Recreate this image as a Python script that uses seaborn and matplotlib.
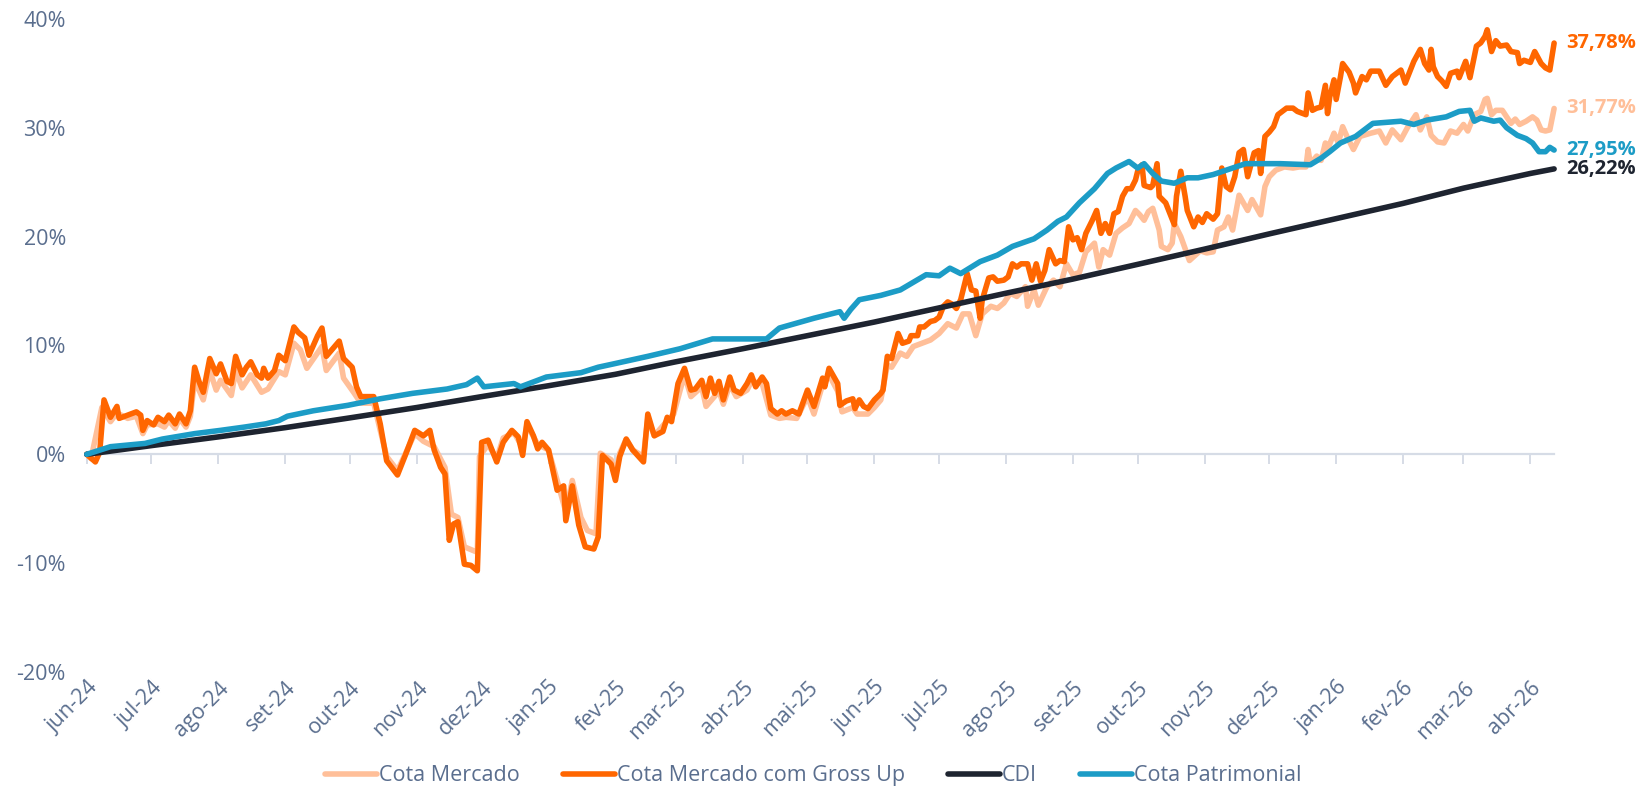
import matplotlib
matplotlib.use("Agg")
import matplotlib.pyplot as plt
import pandas as pd
import seaborn as sns

# ---------------- data (cumulative return, %) ----------------
gross_up_dates = [
    "2024-06-01", "2024-06-05", "2024-06-07", "2024-06-09", "2024-06-12", "2024-06-15", "2024-06-16",
    "2024-06-20", "2024-06-24", "2024-06-26", "2024-06-27", "2024-06-29", "2024-07-02", "2024-07-04",
    "2024-07-07", "2024-07-09", "2024-07-12", "2024-07-14", "2024-07-17", "2024-07-19", "2024-07-21",
    "2024-07-23", "2024-07-25", "2024-07-28", "2024-07-31", "2024-08-02", "2024-08-05", "2024-08-07",
    "2024-08-09", "2024-08-12", "2024-08-14", "2024-08-16", "2024-08-19", "2024-08-21", "2024-08-22",
    "2024-08-24", "2024-08-27", "2024-08-29", "2024-09-01", "2024-09-05", "2024-09-07", "2024-09-10",
    "2024-09-12", "2024-09-16", "2024-09-18", "2024-09-20", "2024-09-23", "2024-09-26", "2024-09-28",
    "2024-10-02", "2024-10-04", "2024-10-06", "2024-10-12", "2024-10-15", "2024-10-18", "2024-10-23",
    "2024-10-27", "2024-10-31", "2024-11-04", "2024-11-07", "2024-11-09", "2024-11-12", "2024-11-14",
    "2024-11-16", "2024-11-18", "2024-11-20", "2024-11-23", "2024-11-26", "2024-11-29", "2024-12-01",
    "2024-12-04", "2024-12-08", "2024-12-11", "2024-12-15", "2024-12-18", "2024-12-20", "2024-12-22",
    "2024-12-25", "2024-12-27", "2024-12-29", "2025-01-01", "2025-01-05", "2025-01-08", "2025-01-09",
    "2025-01-12", "2025-01-15", "2025-01-18", "2025-01-22", "2025-01-24", "2025-01-26", "2025-01-30",
    "2025-02-01", "2025-02-03", "2025-02-06", "2025-02-09", "2025-02-14", "2025-02-16", "2025-02-19",
    "2025-02-23", "2025-02-25", "2025-02-27", "2025-03-02", "2025-03-05", "2025-03-08", "2025-03-10",
    "2025-03-13", "2025-03-15", "2025-03-17", "2025-03-19", "2025-03-21", "2025-03-23", "2025-03-26",
    "2025-03-28", "2025-03-31", "2025-04-03", "2025-04-05", "2025-04-07", "2025-04-10", "2025-04-12",
    "2025-04-14", "2025-04-17", "2025-04-19", "2025-04-21", "2025-04-24", "2025-04-27", "2025-05-01",
    "2025-05-04", "2025-05-08", "2025-05-09", "2025-05-11", "2025-05-15", "2025-05-16", "2025-05-19",
    "2025-05-22", "2025-05-23", "2025-05-25", "2025-05-27", "2025-05-29", "2025-06-01", "2025-06-04",
    "2025-06-05", "2025-06-07", "2025-06-09", "2025-06-12", "2025-06-14", "2025-06-17", "2025-06-18",
    "2025-06-21", "2025-06-22", "2025-06-24", "2025-06-27", "2025-06-29", "2025-07-01", "2025-07-03",
    "2025-07-05", "2025-07-07", "2025-07-09", "2025-07-11", "2025-07-14", "2025-07-16", "2025-07-18",
    "2025-07-20", "2025-07-21", "2025-07-24", "2025-07-26", "2025-07-28", "2025-07-31", "2025-08-02",
    "2025-08-04", "2025-08-06", "2025-08-08", "2025-08-11", "2025-08-13", "2025-08-15", "2025-08-17",
    "2025-08-19", "2025-08-21", "2025-08-24", "2025-08-26", "2025-08-28", "2025-08-30", "2025-09-01",
    "2025-09-03", "2025-09-05", "2025-09-07", "2025-09-10", "2025-09-12", "2025-09-14", "2025-09-16",
    "2025-09-18", "2025-09-20", "2025-09-22", "2025-09-24", "2025-09-26", "2025-09-28", "2025-09-30",
    "2025-10-01", "2025-10-03", "2025-10-04", "2025-10-07", "2025-10-08", "2025-10-10", "2025-10-11",
    "2025-10-14", "2025-10-16", "2025-10-18", "2025-10-19", "2025-10-21", "2025-10-23", "2025-10-24",
    "2025-10-27", "2025-10-29", "2025-10-31", "2025-11-02", "2025-11-05", "2025-11-07", "2025-11-09",
    "2025-11-11", "2025-11-13", "2025-11-15", "2025-11-17", "2025-11-19", "2025-11-21", "2025-11-24",
    "2025-11-26", "2025-11-27", "2025-11-29", "2025-12-01", "2025-12-03", "2025-12-05", "2025-12-09",
    "2025-12-12", "2025-12-14", "2025-12-18", "2025-12-19", "2025-12-21", "2025-12-23", "2025-12-25",
    "2025-12-27", "2025-12-28", "2025-12-29", "2025-12-31", "2026-01-01", "2026-01-03", "2026-01-04",
    "2026-01-07", "2026-01-09", "2026-01-10", "2026-01-13", "2026-01-15", "2026-01-17", "2026-01-21",
    "2026-01-24", "2026-01-27", "2026-01-31", "2026-02-02", "2026-02-06", "2026-02-09", "2026-02-11",
    "2026-02-13", "2026-02-14", "2026-02-15", "2026-02-17", "2026-02-19", "2026-02-21", "2026-02-23",
    "2026-02-26", "2026-02-27", "2026-03-02", "2026-03-04", "2026-03-07", "2026-03-09", "2026-03-11",
    "2026-03-12", "2026-03-14", "2026-03-16", "2026-03-18", "2026-03-21", "2026-03-23", "2026-03-26",
    "2026-03-27", "2026-03-29", "2026-04-01", "2026-04-03", "2026-04-06", "2026-04-08", "2026-04-10",
    "2026-04-12",
]
gross_up_values = [
    0.0, -0.7, 0.2, 5.0, 3.4, 4.4, 3.3,
    3.6, 3.9, 3.6, 2.2, 3.1, 2.7, 3.4,
    3.0, 3.6, 2.8, 3.7, 2.8, 4.0, 8.0,
    6.7, 5.7, 8.8, 7.4, 8.3, 6.7, 6.5,
    9.0, 7.3, 8.0, 8.5, 7.3, 7.0, 7.9,
    7.0, 7.7, 9.1, 8.6, 11.7, 11.2, 10.7,
    9.1, 10.9, 11.6, 9.0, 9.7, 10.4, 8.8,
    8.0, 6.2, 5.3, 5.3, 2.8, -0.6, -1.9,
    0.1, 2.2, 1.7, 2.2, 0.4, -1.2, -1.8,
    -7.9, -6.4, -6.2, -10.1, -10.2, -10.7, 1.1,
    1.3, -0.7, 1.1, 2.2, 1.6, -0.1, 3.0,
    1.7, 0.5, 1.1, 0.4, -3.3, -2.9, -6.1,
    -2.9, -6.5, -8.5, -8.7, -7.6, -0.1, -0.9,
    -2.4, -0.2, 1.4, 0.4, -0.7, 3.7, 1.7,
    2.1, 3.4, 3.0, 6.5, 7.9, 5.9, 6.0,
    6.8, 5.3, 7.0, 5.6, 6.7, 5.0, 7.1,
    5.9, 5.6, 6.5, 7.3, 6.2, 7.1, 6.5,
    4.2, 3.7, 4.0, 3.7, 4.0, 3.7, 5.9,
    4.4, 7.0, 6.2, 7.9, 6.5, 4.5, 4.9,
    5.1, 4.2, 5.0, 4.4, 4.2, 5.0, 5.6,
    5.9, 9.0, 8.8, 11.1, 10.2, 10.4, 10.9,
    10.9, 11.7, 11.7, 12.2, 12.3, 12.6, 13.6,
    14.0, 13.8, 13.4, 14.2, 16.6, 15.1, 15.0,
    12.5, 14.2, 16.2, 16.3, 15.9, 16.0, 16.3,
    17.5, 17.2, 17.5, 17.5, 16.0, 17.5, 15.9,
    16.9, 18.8, 17.5, 17.8, 17.7, 20.9, 19.7,
    19.9, 18.8, 20.3, 21.5, 22.4, 20.3, 21.2,
    20.3, 22.1, 22.3, 23.7, 24.4, 24.4, 25.2,
    26.0, 26.6, 24.7, 24.5, 24.7, 26.7, 23.7,
    23.1, 22.1, 21.1, 23.7, 26.0, 23.7, 22.4,
    20.9, 21.8, 21.3, 22.1, 21.6, 22.1, 26.3,
    24.6, 24.3, 25.5, 27.7, 28.0, 25.5, 27.7,
    27.9, 25.8, 29.2, 29.6, 30.1, 31.2, 31.8,
    31.8, 31.5, 31.2, 33.2, 31.6, 31.8, 31.9,
    33.9, 31.3, 32.8, 34.4, 32.6, 34.7, 35.9,
    35.1, 34.1, 33.2, 34.7, 34.4, 35.2, 35.2,
    33.9, 34.7, 35.3, 34.1, 36.1, 37.2, 35.9,
    35.3, 37.2, 35.6, 34.7, 34.3, 33.8, 35.0,
    35.2, 34.6, 36.1, 34.6, 37.5, 37.8, 38.4,
    39.0, 37.0, 38.0, 37.5, 37.6, 37.0, 36.9,
    35.9, 36.2, 36.0, 37.0, 35.9, 35.5, 35.3,
    37.78,
]

mercado_dates = [
    "2024-06-01", "2024-06-03", "2024-06-08", "2024-06-12", "2024-06-15", "2024-06-20", "2024-06-24",
    "2024-06-27", "2024-06-29", "2024-07-04", "2024-07-07", "2024-07-09", "2024-07-12", "2024-07-14",
    "2024-07-17", "2024-07-19", "2024-07-21", "2024-07-25", "2024-07-28", "2024-07-31", "2024-08-02",
    "2024-08-07", "2024-08-09", "2024-08-12", "2024-08-16", "2024-08-21", "2024-08-24", "2024-08-29",
    "2024-09-01", "2024-09-05", "2024-09-08", "2024-09-11", "2024-09-18", "2024-09-20", "2024-09-26",
    "2024-09-28", "2024-10-03", "2024-10-06", "2024-10-12", "2024-10-15", "2024-10-18", "2024-10-23",
    "2024-10-31", "2024-11-04", "2024-11-09", "2024-11-14", "2024-11-17", "2024-11-20", "2024-11-23",
    "2024-11-29", "2024-11-30", "2024-12-04", "2024-12-08", "2024-12-11", "2024-12-16", "2024-12-20",
    "2024-12-22", "2024-12-27", "2025-01-01", "2025-01-05", "2025-01-09", "2025-01-12", "2025-01-16",
    "2025-01-19", "2025-01-23", "2025-01-25", "2025-01-30", "2025-02-01", "2025-02-03", "2025-02-06",
    "2025-02-09", "2025-02-14", "2025-02-16", "2025-02-19", "2025-02-25", "2025-02-28", "2025-03-03",
    "2025-03-05", "2025-03-08", "2025-03-13", "2025-03-15", "2025-03-21", "2025-03-23", "2025-03-26",
    "2025-03-29", "2025-04-03", "2025-04-05", "2025-04-10", "2025-04-14", "2025-04-18", "2025-04-21",
    "2025-04-26", "2025-05-01", "2025-05-04", "2025-05-08", "2025-05-11", "2025-05-15", "2025-05-17",
    "2025-05-22", "2025-05-24", "2025-05-29", "2025-06-01", "2025-06-04", "2025-06-07", "2025-06-09",
    "2025-06-13", "2025-06-16", "2025-06-19", "2025-06-23", "2025-06-27", "2025-07-01", "2025-07-05",
    "2025-07-09", "2025-07-12", "2025-07-15", "2025-07-18", "2025-07-21", "2025-07-25", "2025-07-28",
    "2025-07-31", "2025-08-03", "2025-08-06", "2025-08-10", "2025-08-11", "2025-08-14", "2025-08-16",
    "2025-08-20", "2025-08-23", "2025-08-26", "2025-08-29", "2025-09-01", "2025-09-04", "2025-09-07",
    "2025-09-11", "2025-09-13", "2025-09-15", "2025-09-18", "2025-09-21", "2025-09-24", "2025-09-27",
    "2025-09-30", "2025-10-02", "2025-10-04", "2025-10-06", "2025-10-08", "2025-10-11", "2025-10-12",
    "2025-10-15", "2025-10-17", "2025-10-18", "2025-10-21", "2025-10-25", "2025-10-30", "2025-11-02",
    "2025-11-05", "2025-11-07", "2025-11-10", "2025-11-12", "2025-11-14", "2025-11-17", "2025-11-21",
    "2025-11-23", "2025-11-27", "2025-11-29", "2025-12-01", "2025-12-04", "2025-12-08", "2025-12-12",
    "2025-12-15", "2025-12-18", "2025-12-19", "2025-12-20", "2025-12-23", "2025-12-25", "2025-12-27",
    "2025-12-28", "2025-12-31", "2026-01-02", "2026-01-04", "2026-01-06", "2026-01-09", "2026-01-12",
    "2026-01-17", "2026-01-21", "2026-01-24", "2026-01-27", "2026-01-31", "2026-02-03", "2026-02-07",
    "2026-02-09", "2026-02-12", "2026-02-14", "2026-02-17", "2026-02-20", "2026-02-23", "2026-02-26",
    "2026-03-01", "2026-03-03", "2026-03-06", "2026-03-09", "2026-03-11", "2026-03-12", "2026-03-14",
    "2026-03-16", "2026-03-19", "2026-03-23", "2026-03-25", "2026-03-27", "2026-03-30", "2026-04-02",
    "2026-04-04", "2026-04-06", "2026-04-08", "2026-04-10", "2026-04-12",
]
mercado_values = [
    0.0, -0.4, 4.3, 3.0, 3.8, 3.3, 3.5,
    1.9, 2.7, 2.8, 2.5, 3.1, 2.4, 3.3,
    2.5, 3.5, 6.8, 5.0, 7.7, 5.9, 6.8,
    5.4, 7.7, 6.1, 7.3, 5.7, 6.0, 7.6,
    7.3, 10.2, 9.6, 7.9, 9.9, 7.7, 9.3,
    7.0, 5.6, 4.7, 4.7, 2.2, -0.2, -1.5,
    1.9, 1.2, 0.7, -1.2, -5.5, -5.8, -8.5,
    -9.0, -0.2, 0.9, -0.4, 1.5, 2.0, 0.6,
    2.7, 0.9, 0.4, -2.4, -5.3, -2.4, -5.8,
    -7.0, -7.3, 0.1, -0.5, -1.8, 0.1, 1.4,
    0.4, -0.2, 3.3, 1.7, 3.1, 3.7, 5.9,
    7.3, 5.3, 6.2, 4.4, 5.8, 4.6, 6.4,
    5.3, 5.9, 6.7, 6.5, 3.6, 3.3, 3.4,
    3.3, 5.3, 3.7, 6.4, 7.3, 5.8, 3.9,
    4.3, 3.7, 3.7, 4.3, 5.0, 8.2, 8.0,
    9.3, 9.0, 9.9, 10.2, 10.5, 11.1, 12.0,
    11.6, 12.9, 12.9, 10.9, 12.9, 13.6, 13.4,
    13.9, 14.8, 14.5, 15.4, 13.6, 15.1, 13.7,
    15.4, 16.0, 15.4, 17.5, 16.5, 16.7, 18.6,
    19.4, 17.2, 18.8, 18.3, 20.3, 20.8, 21.2,
    22.4, 22.0, 21.5, 22.3, 22.6, 20.6, 19.1,
    18.8, 19.4, 21.2, 20.0, 17.8, 18.7, 18.5,
    18.6, 20.6, 20.9, 21.8, 20.6, 23.8, 22.4,
    23.4, 22.0, 24.6, 25.5, 26.1, 26.4, 26.3,
    26.4, 26.4, 28.0, 26.7, 27.4, 27.0, 28.6,
    28.0, 29.5, 28.6, 30.1, 29.2, 28.0, 29.2,
    29.5, 29.7, 28.6, 29.8, 28.9, 30.0, 31.2,
    29.8, 31.0, 29.3, 28.7, 28.6, 29.7, 29.5,
    30.3, 29.7, 31.2, 31.5, 32.6, 32.7, 31.2,
    31.6, 31.6, 30.4, 30.8, 30.3, 30.6, 31.0,
    30.7, 29.8, 29.7, 29.8, 31.77,
]

cdi_dates = [
    "2024-06-01", "2024-07-01", "2024-08-01", "2024-09-01", "2024-10-01", "2024-11-01",
    "2024-12-01", "2025-01-01", "2025-02-01", "2025-03-01", "2025-04-01", "2025-05-01",
    "2025-06-01", "2025-07-01", "2025-08-01", "2025-09-01", "2025-10-01", "2025-11-01",
    "2025-12-01", "2026-01-01", "2026-02-01", "2026-03-01", "2026-04-01", "2026-04-12",
]
cdi_values = [
    0.0, 0.8, 1.6, 2.45, 3.35, 4.3,
    5.3, 6.3, 7.35, 8.5, 9.7, 10.9,
    12.15, 13.45, 14.8, 16.1, 17.45, 18.85,
    20.25, 21.65, 23.05, 24.45, 25.8, 26.22,
]

patrimonial_dates = [
    "2024-06-01", "2024-06-12", "2024-06-28", "2024-07-06", "2024-07-21", "2024-08-02", "2024-08-13",
    "2024-08-23", "2024-08-29", "2024-09-02", "2024-09-14", "2024-09-30", "2024-10-15", "2024-10-30",
    "2024-11-15", "2024-11-24", "2024-11-29", "2024-12-02", "2024-12-16", "2024-12-19", "2024-12-31",
    "2025-01-16", "2025-01-24", "2025-01-31", "2025-02-16", "2025-03-03", "2025-03-18", "2025-04-03",
    "2025-04-12", "2025-04-18", "2025-05-04", "2025-05-16", "2025-05-18", "2025-05-21", "2025-05-25",
    "2025-06-04", "2025-06-13", "2025-06-25", "2025-07-01", "2025-07-06", "2025-07-11", "2025-07-20",
    "2025-07-28", "2025-08-04", "2025-08-14", "2025-08-20", "2025-08-25", "2025-08-29", "2025-09-04",
    "2025-09-11", "2025-09-17", "2025-09-21", "2025-09-27", "2025-10-01", "2025-10-04", "2025-10-08",
    "2025-10-12", "2025-10-18", "2025-10-24", "2025-10-29", "2025-11-05", "2025-11-20", "2025-12-06",
    "2025-12-20", "2025-12-25", "2025-12-29", "2026-01-03", "2026-01-10", "2026-01-18", "2026-01-31",
    "2026-02-06", "2026-02-12", "2026-02-21", "2026-02-27", "2026-03-04", "2026-03-06", "2026-03-09",
    "2026-03-15", "2026-03-18", "2026-03-21", "2026-03-26", "2026-03-30", "2026-04-02", "2026-04-05",
    "2026-04-08", "2026-04-10", "2026-04-12",
]
patrimonial_values = [
    0.0, 0.7, 1.0, 1.4, 1.9, 2.2, 2.5,
    2.8, 3.1, 3.5, 4.0, 4.5, 5.1, 5.6,
    6.0, 6.4, 7.0, 6.2, 6.5, 6.2, 7.1,
    7.5, 8.0, 8.3, 9.0, 9.7, 10.6, 10.6,
    10.6, 11.6, 12.5, 13.1, 12.5, 13.3, 14.2,
    14.6, 15.1, 16.5, 16.4, 17.1, 16.6, 17.7,
    18.3, 19.1, 19.8, 20.6, 21.4, 21.8, 23.1,
    24.4, 25.8, 26.3, 26.9, 26.3, 26.7, 25.8,
    25.1, 24.9, 25.4, 25.4, 25.7, 26.7, 26.7,
    26.6, 27.2, 27.8, 28.6, 29.2, 30.4, 30.6,
    30.3, 30.7, 31.0, 31.5, 31.6, 30.6, 30.9,
    30.6, 30.7, 30.0, 29.3, 29.0, 28.6, 27.8,
    27.8, 28.2, 27.95,
]

month_starts = [
    "2024-06-01", "2024-07-01", "2024-08-01", "2024-09-01", "2024-10-01", "2024-11-01",
    "2024-12-01", "2025-01-01", "2025-02-01", "2025-03-01", "2025-04-01", "2025-05-01",
    "2025-06-01", "2025-07-01", "2025-08-01", "2025-09-01", "2025-10-01", "2025-11-01",
    "2025-12-01", "2026-01-01", "2026-02-01", "2026-03-01", "2026-04-01",
]
month_labels = [
    "jun-24", "jul-24", "ago-24", "set-24", "out-24", "nov-24", "dez-24", "jan-25",
    "fev-25", "mar-25", "abr-25", "mai-25", "jun-25", "jul-25", "ago-25", "set-25",
    "out-25", "nov-25", "dez-25", "jan-26", "fev-26", "mar-26", "abr-26",
]
y_ticks = [-20, -10, 0, 10, 20, 30, 40]

series = [
    ("Cota Mercado", mercado_dates, mercado_values, "#FFBF99"),
    ("Cota Mercado com Gross Up", gross_up_dates, gross_up_values, "#FF6600"),
    ("CDI", cdi_dates, cdi_values, "#1E2430"),
    ("Cota Patrimonial", patrimonial_dates, patrimonial_values, "#1C9CC6"),
]

# ---------------- styling ----------------
sns.set_theme(style="white")
plt.rcParams["font.family"] = ["Open Sans", "DejaVu Sans"]
TEXT = "#5A6E8E"
AXIS = "#D6DCE6"

fig = plt.figure(figsize=(16.43, 7.87), dpi=100)
ax = fig.add_axes([0.0528, 0.1461, 0.8931, 0.8299])

for name, dates, values, color in series:
    df = pd.DataFrame({"data": pd.to_datetime(dates), "retorno": values})
    sns.lineplot(data=df, x="data", y="retorno", ax=ax, color=color, linewidth=4.0,
                 estimator=None, label=name, solid_capstyle="round",
                 solid_joinstyle="round", clip_on=False)
    ax.annotate(f"{values[-1]:.2f}%".replace(".", ","),
                xy=(df["data"].iloc[-1], values[-1]), xytext=(9, 0),
                textcoords="offset points", ha="left", va="center",
                color=color, fontsize=14.5, fontweight="bold",
                annotation_clip=False)

ax.set_xlim(pd.Timestamp("2024-06-01"), pd.Timestamp("2026-04-12"))
ax.set_ylim(-20, 40)
ax.set_xlabel("")
ax.set_ylabel("")

for side in ("top", "right", "left"):
    ax.spines[side].set_visible(False)
ax.spines["bottom"].set_position(("data", 0))
ax.spines["bottom"].set_color(AXIS)
ax.spines["bottom"].set_linewidth(1.6)
ax.spines["bottom"].set_zorder(0.5)

tick_dates = pd.to_datetime(month_starts)
ax.set_xticks(tick_dates)
ax.tick_params(axis="x", which="major", bottom=True, direction="out", length=7,
               width=1.4, color=AXIS, labelbottom=False)

ax.set_yticks(y_ticks)
ax.set_yticklabels([f"{v}%" for v in y_ticks])
ax.tick_params(axis="y", length=0, pad=15, labelsize=15.5, labelcolor=TEXT)

sec = ax.secondary_xaxis("bottom")
sec.set_xticks(tick_dates)
sec.set_xticklabels(month_labels, rotation=45, ha="right", rotation_mode="anchor")
sec.tick_params(length=0, pad=4, labelsize=15.5, labelcolor=TEXT)
sec.spines["bottom"].set_visible(False)

handles, labels = ax.get_legend_handles_labels()
ax.get_legend().remove()
fig.legend(handles, labels, loc="center", bbox_to_anchor=(0.495, 0.014), ncol=4,
           frameon=False, fontsize=15.5, labelcolor=TEXT, handlelength=2.4,
           handletextpad=0.1, columnspacing=2.0, borderaxespad=0)

fig.savefig("out.png", dpi=100)
